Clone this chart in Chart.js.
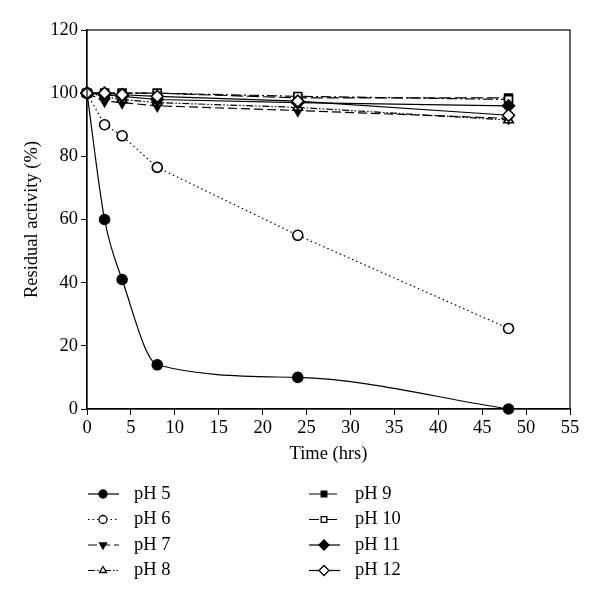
<!DOCTYPE html>
<html>
<head>
<meta charset="utf-8">
<script src="https://cdn.jsdelivr.net/npm/chart.js@4/dist/chart.umd.min.js"></script>
<style>
  body { margin: 0; background: #fff; }
  #wrap { width: 600px; height: 602px; }
</style>
</head>
<body>
<div id="wrap"><canvas id="phChart" width="600" height="602"></canvas></div>
<script>
// hours
const times = [0, 2, 4, 8, 24, 48];
const labels = ['pH 5', 'pH 6', 'pH 7', 'pH 8', 'pH 9', 'pH 10', 'pH 11', 'pH 12'];

const ph5 = [100, 60, 41, 14, 10, 0];
const ph6 = [100, 90, 86.5, 76.5, 55, 25.5];
const ph7 = [100, 97.5, 97, 96, 94.5, 92];
const ph8 = [100, 99, 98, 97, 95.5, 91.5];
const ph9 = [100, 100, 100, 100, 98.5, 98.5];
const ph10 = [100, 100, 100, 100, 99, 98];
const ph11 = [100, 99.5, 99, 98, 97, 96];
const ph12 = [100, 100, 99.5, 99, 97.5, 93];

const xTicks = [0, 5, 10, 15, 20, 25, 30, 35, 40, 45, 50, 55];
const yTicks = [0, 20, 40, 60, 80, 100, 120];

const serif = "'Liberation Serif', 'DejaVu Serif', serif";
const fs = 18.5;

const series = [ph5, ph6, ph7, ph8, ph9, ph10, ph11, ph12];
const styles = [
    { pointStyle: 'circle', fill: '#000', dash: [], rot: 0 },
    { pointStyle: 'circle', fill: '#fff', dash: [1.5, 3] },
    { pointStyle: 'triangle', fill: '#000', dash: [9, 4], rot: 180 },
    { pointStyle: 'triangle', fill: '#fff', dash: [7, 2, 1.5, 2, 1.5, 2] },
    { pointStyle: 'rect', fill: '#000', dash: [12, 4] },
    { pointStyle: 'rect', fill: '#fff', dash: [10, 3, 2, 3] },
    { pointStyle: 'rectRot', fill: '#000', dash: [] },
    { pointStyle: 'rectRot', fill: '#fff', dash: [] }
];

const datasets = series.map(function (vals, i) {
    const st = styles[i];
    return {
        label: labels[i],
        data: times.map(function (t, j) { return { x: t, y: vals[j] }; }),
        borderColor: '#000',
        borderWidth: 1.2,
        borderDash: st.dash,
        backgroundColor: st.fill,
        pointStyle: st.pointStyle,
        pointRotation: st.rot || 0,
        pointRadius: st.pointStyle === 'circle' ? 5 : (st.pointStyle === 'rectRot' ? 6 : 5.5),
        pointBorderColor: '#000',
        pointBackgroundColor: st.fill,
        pointBorderWidth: 1.6,
        cubicInterpolationMode: i === 0 ? 'monotone' : 'default',
        tension: 0,
        clip: false,
        order: series.length - i
    };
});

// frame + two column legend under the plot
const framePlugin = {
    id: 'frameLegend',
    afterDraw: function (chart) {
        const c = chart.ctx;
        const a = chart.chartArea;
        c.save();
        c.strokeStyle = '#000';
        c.lineWidth = 1.2;
        c.setLineDash([]);
        c.strokeRect(a.left, a.top, a.right - a.left, a.bottom - a.top);

        c.font = fs + 'px ' + serif;
        c.textBaseline = 'middle';
        c.fillStyle = '#000';
        chart.data.datasets.forEach(function (ds, i) {
            const col = i < 4 ? 0 : 1;
            const row = i % 4;
            const x0 = col === 0 ? 88 : 309;
            const y = 494 + row * 25.5;
            c.strokeStyle = '#000';
            c.lineWidth = 1.2;
            c.setLineDash(ds.borderDash);
            c.beginPath();
            c.moveTo(x0, y);
            c.lineTo(x0 + 31, y);
            c.stroke();
            c.setLineDash([]);
            c.fillStyle = ds.pointBackgroundColor;
            c.lineWidth = 1.3;
            Chart.helpers.drawPoint(c, {
                pointStyle: ds.pointStyle,
                radius: ds.pointStyle === 'rectRot' ? 5 : 4,
                rotation: ds.pointRotation,
                borderWidth: 1.3
            }, x0 + 15, y);
            c.fillStyle = '#000';
            c.fillText(ds.label, x0 + 46, y);
        });
        c.restore();
    }
};

new Chart(document.getElementById('phChart'), {
    type: 'line',
    data: { datasets: datasets },
    options: {
        responsive: false,
        animation: false,
        layout: { padding: { left: 0, right: 30, top: 30, bottom: 133 } },
        plugins: { legend: { display: false }, tooltip: { enabled: false } },
        scales: {
            x: {
                type: 'linear',
                min: 0,
                max: 55,
                afterBuildTicks: function (s) { s.ticks = xTicks.map(function (v) { return { value: v }; }); },
                afterFit: function (s) { s.height = 60; },
                grid: { drawOnChartArea: false, tickLength: 6, color: '#000', tickColor: '#000' },
                border: { color: '#000', width: 1.2 },
                ticks: { color: '#000', font: { family: serif, size: fs }, padding: 2, maxRotation: 0 },
                title: { display: true, text: 'Time (hrs)', color: '#000', font: { family: serif, size: fs }, padding: { top: 0, bottom: 4 } }
            },
            y: {
                min: 0,
                max: 120,
                afterBuildTicks: function (s) { s.ticks = yTicks.map(function (v) { return { value: v }; }); },
                afterFit: function (s) { s.width = 87; },
                grid: { drawOnChartArea: false, tickLength: 6, color: '#000', tickColor: '#000' },
                border: { color: '#000', width: 1.2 },
                ticks: { color: '#000', font: { family: serif, size: fs }, padding: 3 },
                title: { display: true, text: 'Residual activity (%)', color: '#000', font: { family: serif, size: fs }, padding: { top: 21, bottom: 0 } }
            }
        }
    },
    plugins: [framePlugin]
});
</script>
</body>
</html>
